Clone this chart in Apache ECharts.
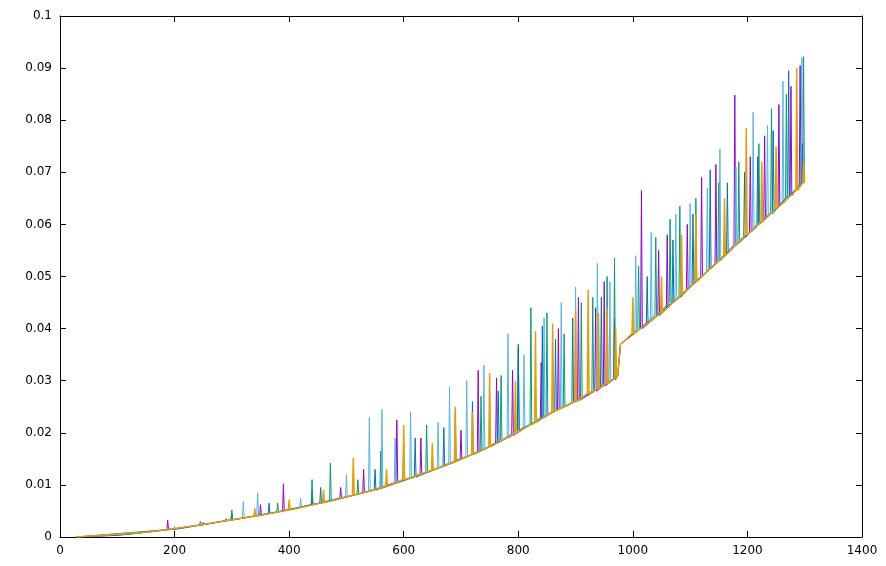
<!DOCTYPE html>
<html><head><meta charset="utf-8">
<script src="https://cdn.jsdelivr.net/npm/echarts@6/dist/echarts.min.js"></script>
<style>html,body{margin:0;background:#fff}#main{width:886px;height:566px}</style>
</head><body><div id="main"></div>
<script>
// spikes: [x, base level, peak]
const purple = [[30,0,0],[100,0.0003,0.0003],[150,0.0009,0.0011],[188,0.0014,0.0032],[250,0.0024,0.0028],[300,0.0033,0.0045],[350,0.0042,0.0062],[390,0.005,0.0102],[440,0.0062,0.0085],[490,0.0075,0.0095],[530,0.0085,0.013],[588,0.0105,0.0225],[630,0.012,0.019],[700,0.015,0.0205],[730,0.0163,0.032],[762,0.018,0.0305],[790,0.0195,0.032],[840,0.0228,0.0335],[870,0.0245,0.040],[905,0.0262,0.046],[935,0.028,0.044],[950,0.029,0.049],[968,0.0302,0.042],[975,0.031,0.031],[980,0.037,0.037],[1015,0.040,0.0665],[1045,0.0425,0.055],[1060,0.044,0.058],[1095,0.0475,0.060],[1120,0.050,0.069],[1145,0.0525,0.0715],[1178,0.056,0.0848],[1205,0.0585,0.073],[1230,0.061,0.077],[1255,0.0635,0.083],[1276,0.0655,0.0865],[1292,0.0675,0.0905],[1298,0.068,0.068]]
const green = [[30,0,0],[120,0.0005,0.0006],[190,0.0014,0.0018],[245,0.0023,0.003],[300,0.0033,0.0052],[380,0.0048,0.0065],[440,0.0062,0.011],[472,0.0069,0.0142],[520,0.0082,0.011],[560,0.0094,0.0165],[600,0.011,0.018],[640,0.0124,0.0215],[690,0.0145,0.024],[735,0.0166,0.027],[770,0.0185,0.031],[800,0.0205,0.036],[822,0.0215,0.044],[850,0.0234,0.043],[880,0.025,0.039],[910,0.0267,0.045],[930,0.028,0.046],[955,0.0295,0.050],[968,0.0302,0.0535],[975,0.031,0.031],[980,0.037,0.037],[1010,0.040,0.052],[1040,0.0425,0.0575],[1065,0.045,0.061],[1082,0.046,0.0635],[1110,0.049,0.065],[1150,0.053,0.068],[1185,0.0565,0.072],[1220,0.060,0.0755],[1242,0.062,0.0822],[1268,0.065,0.085],[1298,0.068,0.0922]]
const lightBlue = [[30,0,0],[140,0.0008,0.0009],[200,0.0015,0.002],[320,0.0036,0.0068],[345,0.0041,0.0085],[420,0.0057,0.0075],[500,0.0077,0.012],[540,0.0088,0.023],[562,0.0094,0.0245],[585,0.0103,0.019],[612,0.0113,0.024],[660,0.0132,0.022],[680,0.014,0.0288],[710,0.0155,0.030],[740,0.0168,0.033],[782,0.019,0.039],[810,0.021,0.035],[845,0.023,0.042],[875,0.0248,0.045],[900,0.026,0.048],[938,0.0285,0.0525],[960,0.0298,0.049],[975,0.031,0.031],[980,0.037,0.037],[1005,0.0395,0.054],[1032,0.0415,0.0585],[1075,0.0455,0.062],[1100,0.048,0.064],[1130,0.051,0.067],[1152,0.053,0.0745],[1180,0.056,0.071],[1210,0.059,0.0815],[1235,0.0615,0.079],[1262,0.064,0.0875],[1295,0.068,0.092]]
const blue = [[30,0,0],[210,0.0016,0.0018],[290,0.0031,0.0035],[365,0.0045,0.0065],[455,0.0065,0.0095],[550,0.009,0.013],[620,0.0115,0.019],[670,0.0136,0.021],[720,0.0158,0.026],[765,0.0182,0.028],[800,0.0205,0.037],[842,0.0228,0.0405],[865,0.0243,0.038],[895,0.0258,0.042],[945,0.0288,0.046],[975,0.031,0.031],[980,0.037,0.037],[1025,0.041,0.050],[1070,0.045,0.057],[1105,0.0485,0.062],[1135,0.0515,0.0705],[1165,0.0545,0.068],[1195,0.0575,0.070],[1218,0.060,0.073],[1245,0.0625,0.078],[1272,0.0655,0.0895],[1296,0.068,0.0755]]
const orange = [[30,0,0],[160,0.001,0.0011],[240,0.0022,0.0025],[340,0.004,0.0055],[400,0.0052,0.0072],[460,0.0066,0.009],[512,0.008,0.0152],[570,0.0097,0.013],[600,0.011,0.0215],[650,0.0128,0.018],[690,0.0145,0.025],[720,0.0158,0.024],[750,0.0173,0.0315],[795,0.02,0.030],[830,0.022,0.0395],[860,0.024,0.041],[900,0.026,0.0435],[922,0.0275,0.0475],[940,0.0285,0.043],[955,0.0295,0.044],[970,0.0305,0.040],[975,0.031,0.031],[980,0.037,0.037],[1000,0.039,0.046],[1050,0.043,0.050],[1085,0.0465,0.058],[1110,0.049,0.062],[1160,0.054,0.065],[1198,0.058,0.0785],[1225,0.0605,0.072],[1250,0.063,0.075],[1286,0.0665,0.090],[1298,0.068,0.072]]

const sets = [purple, green, lightBlue, blue, orange]
const setColors = ['#9400d3', '#009e73', '#56b4e9', '#0072b2', '#e69f00']

// each spike: base just before, peak, base just after
function toPoints(spikes) {
  const pts = []
  spikes.forEach(([x, b, p]) => {
    pts.push([x - 1.5, b], [x, p], [x + 1.5, b])
  })
  return pts
}

var myChart = echarts.init(document.getElementById('main'))
const axisBase = {
  axisLine: { show: true, onZero: false, lineStyle: { color: '#000' } },
  axisTick: { show: true, inside: true, length: 6, lineStyle: { color: '#000' } },
  splitLine: { show: false }
}
const lbl = { color: '#000', fontFamily: 'DejaVu Sans', fontSize: 12 }
var option = {
  animation: false,
  grid: { left: 60, right: 24, top: 16, bottom: 29 },
  xAxis: [
    Object.assign({ type: 'value', min: 0, max: 1400, interval: 200, position: 'bottom',
      axisLabel: Object.assign({ margin: 8, formatter: v => String(v) }, lbl) }, axisBase),
    Object.assign({ type: 'value', min: 0, max: 1400, interval: 200, position: 'top',
      axisLabel: { show: false } }, axisBase)
  ],
  yAxis: [
    Object.assign({ type: 'value', min: 0, max: 0.1, interval: 0.01, position: 'left',
      axisLabel: Object.assign({ formatter: v => String(+v.toFixed(2)) }, lbl) }, axisBase),
    Object.assign({ type: 'value', min: 0, max: 0.1, interval: 0.01, position: 'right',
      axisLabel: { show: false } }, axisBase)
  ],
  series: sets.map((d, i) => ({
    type: 'line', data: toPoints(d), showSymbol: false, symbol: 'none',
    lineStyle: { width: i === 4 ? 1.5 : 1, color: setColors[i] }, itemStyle: { color: setColors[i] }
  }))
}
myChart.setOption(option)
</script></body></html>
